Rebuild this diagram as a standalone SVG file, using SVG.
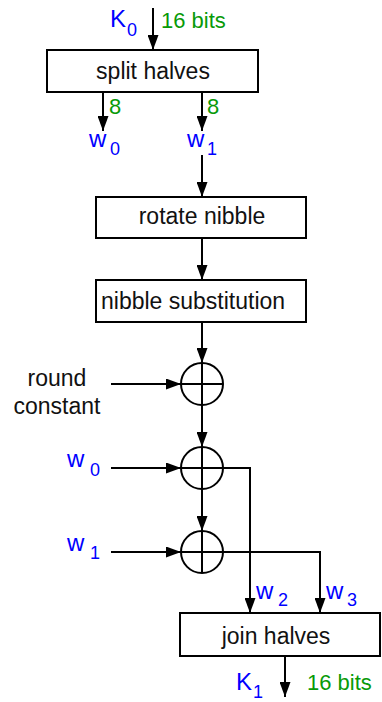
<svg xmlns="http://www.w3.org/2000/svg" width="382" height="702" viewBox="0 0 382 702">
  <style>
    text { font-family: "Liberation Sans", Arial, sans-serif; }
    .box { fill: #ffffff; stroke: #000000; stroke-width: 2; }
    .lbl { font-size: 23px; fill: #111111; }
    .var { font-size: 24px; fill: #0000ff; }
    .sub { font-size: 18px; fill: #0000ff; }
    .bits { font-size: 22px; fill: #089a08; }
    .wire { fill: none; stroke: #000000; stroke-width: 2; }
    .xor { fill: #ffffff; stroke: #000000; stroke-width: 2; }
  </style>
  <defs>
    <marker id="arrow" markerUnits="userSpaceOnUse" markerWidth="15" markerHeight="11" refX="15" refY="5.5" orient="auto">
      <path d="M0,0 L15,5.5 L0,11 Z" fill="#000000"/>
    </marker>
  </defs>

  <!-- connectors -->
  <g id="connectors">
    <line class="wire" x1="153" y1="8" x2="153" y2="50" marker-end="url(#arrow)"/>
    <line class="wire" x1="103" y1="92" x2="103" y2="131" marker-end="url(#arrow)"/>
    <line class="wire" x1="202" y1="92" x2="202" y2="131" marker-end="url(#arrow)"/>
    <line class="wire" x1="202" y1="155" x2="202" y2="197" marker-end="url(#arrow)"/>
    <line class="wire" x1="202" y1="238" x2="202" y2="280" marker-end="url(#arrow)"/>
    <line class="wire" x1="202" y1="322" x2="202" y2="363" marker-end="url(#arrow)"/>
    <line class="wire" x1="202" y1="405" x2="202" y2="447" marker-end="url(#arrow)"/>
    <line class="wire" x1="202" y1="489" x2="202" y2="531" marker-end="url(#arrow)"/>
    <line class="wire" x1="111" y1="384" x2="181" y2="384" marker-end="url(#arrow)"/>
    <line class="wire" x1="111" y1="468" x2="181" y2="468" marker-end="url(#arrow)"/>
    <line class="wire" x1="111" y1="552" x2="181" y2="552" marker-end="url(#arrow)"/>
    <polyline class="wire" points="223,468 250,468 250,613" marker-end="url(#arrow)"/>
    <polyline class="wire" points="223,552 320,552 320,613" marker-end="url(#arrow)"/>
    <line class="wire" x1="285" y1="656" x2="285" y2="697" marker-end="url(#arrow)"/>
  </g>

  <!-- input key -->
  <g id="key-in">
    <text class="var" x="110" y="27">K</text>
    <text class="sub" x="127" y="36">0</text>
    <text class="bits" x="161" y="28">16 bits</text>
  </g>

  <g id="split">
    <rect class="box" x="47" y="50" width="211" height="42"/>
    <text class="lbl" x="153" y="79" text-anchor="middle">split halves</text>
    <text class="bits" x="109" y="114">8</text>
    <text class="bits" x="207" y="114">8</text>
  </g>

  <g id="w-top">
    <text class="var" x="89" y="147">w</text>
    <text class="sub" x="110" y="155">0</text>
    <text class="var" x="187" y="147">w</text>
    <text class="sub" x="207" y="155">1</text>
  </g>

  <g id="rotate">
    <rect class="box" x="96" y="197" width="210" height="41"/>
    <text class="lbl" x="202" y="224" text-anchor="middle">rotate nibble</text>
  </g>

  <g id="subst">
    <rect class="box" x="96" y="280" width="210" height="42"/>
    <text class="lbl" x="101" y="309">nibble substitution</text>
  </g>

  <g id="xor-rc">
    <circle class="xor" cx="202" cy="384" r="21"/>
    <path class="wire" d="M181,384 H223 M202,363 V405"/>
    <text class="lbl" x="57" y="386" text-anchor="middle">round</text>
    <text class="lbl" x="57" y="414" text-anchor="middle">constant</text>
  </g>

  <g id="xor-w0">
    <circle class="xor" cx="202" cy="468" r="21"/>
    <path class="wire" d="M181,468 H223 M202,447 V489"/>
    <text class="var" x="67" y="467">w</text>
    <text class="sub" x="90" y="476">0</text>
  </g>

  <g id="xor-w1">
    <circle class="xor" cx="202" cy="552" r="21"/>
    <path class="wire" d="M181,552 H223 M202,531 V573"/>
    <text class="var" x="67" y="551">w</text>
    <text class="sub" x="90" y="559">1</text>
  </g>

  <g id="w-out">
    <text class="var" x="256" y="599">w</text>
    <text class="sub" x="278" y="606">2</text>
    <text class="var" x="326" y="599">w</text>
    <text class="sub" x="347" y="606">3</text>
  </g>

  <g id="join">
    <rect class="box" x="180" y="613" width="200" height="43"/>
    <text class="lbl" x="276" y="644" text-anchor="middle">join halves</text>
  </g>

  <g id="key-out">
    <text class="var" x="236" y="690">K</text>
    <text class="sub" x="253" y="698">1</text>
    <text class="bits" x="307" y="690">16 bits</text>
  </g>
</svg>
